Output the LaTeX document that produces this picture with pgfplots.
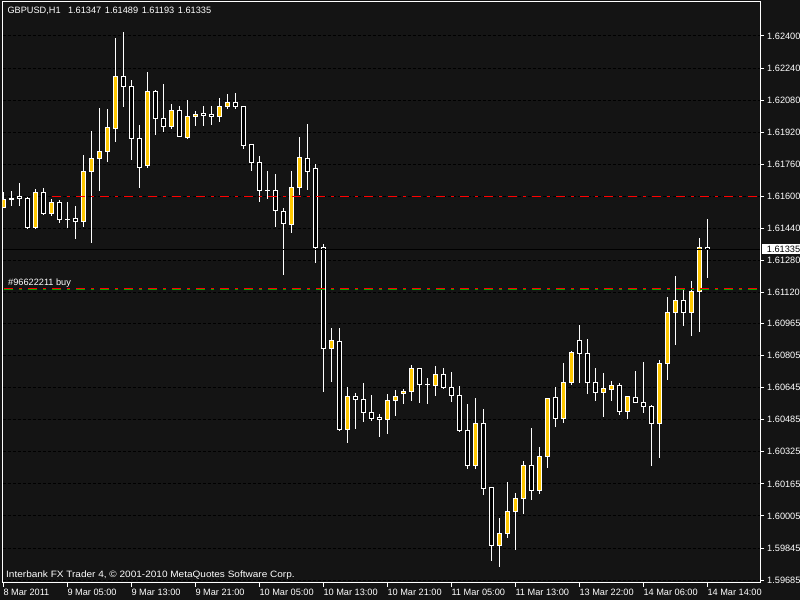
\documentclass[border=0pt]{standalone}
\usepackage{pgfplots}
\pgfplotsset{compat=1.18}
\usepackage{pgfplotstable}
\usepackage{fontspec}
\setmainfont{Liberation Sans}
\newfontfamily\mtwide{Liberation Sans}[FakeStretch=1.09]

\definecolor{mtbg}{RGB}{20,20,20}
\definecolor{mtbull}{RGB}{255,200,0}
\definecolor{mtgreen}{RGB}{0,170,0}
\newcommand\mtfont{\fontsize{9.2pt}{11pt}\selectfont}

% GBPUSD H1 candles: k = bar index, O H L C
\pgfplotstableread{
k O H L C
0 1.61545 1.61623 1.61540 1.61585
1 1.61587 1.61627 1.61553 1.61582
2 1.61600 1.61666 1.61553 1.61588
3 1.61590 1.61597 1.61438 1.61443
4 1.61443 1.61635 1.61438 1.61620
5 1.61620 1.61642 1.61508 1.61515
6 1.61515 1.61587 1.61503 1.61570
7 1.61570 1.61580 1.61468 1.61483
8 1.61485 1.61572 1.61443 1.61484
9 1.61490 1.61552 1.61389 1.61475
10 1.61473 1.61806 1.61448 1.61725
11 1.61723 1.61926 1.61369 1.61790
12 1.61788 1.62041 1.61628 1.61825
13 1.61823 1.62036 1.61773 1.61944
14 1.61937 1.62390 1.61873 1.62199
15 1.62199 1.62420 1.62047 1.62147
16 1.62149 1.62180 1.61781 1.61890
17 1.61890 1.61956 1.61643 1.61743
18 1.61753 1.62220 1.61743 1.62124
19 1.62124 1.62131 1.61906 1.61987
20 1.61989 1.62160 1.61921 1.61947
21 1.61947 1.62061 1.61937 1.62029
22 1.62029 1.62049 1.61898 1.61900
23 1.61892 1.62081 1.61888 1.61999
24 1.61997 1.62026 1.61951 1.62009
25 1.62011 1.62051 1.61951 1.62002
26 1.62006 1.62051 1.61957 1.61997
27 1.61997 1.62091 1.61971 1.62049
28 1.62047 1.62111 1.62037 1.62069
29 1.62069 1.62116 1.62037 1.62047
30 1.62049 1.62050 1.61838 1.61853
31 1.61860 1.61862 1.61728 1.61770
32 1.61770 1.61801 1.61573 1.61628
33 1.61630 1.61726 1.61588 1.61629
34 1.61630 1.61710 1.61448 1.61530
35 1.61525 1.61540 1.61209 1.61463
36 1.61458 1.61726 1.61418 1.61645
37 1.61643 1.61896 1.61607 1.61796
38 1.61790 1.61961 1.61632 1.61723
39 1.61740 1.61761 1.61269 1.61344
40 1.61346 1.61362 1.60625 1.60840
41 1.60840 1.60941 1.60675 1.60882
42 1.60877 1.60941 1.60430 1.60435
43 1.60435 1.60649 1.60371 1.60602
44 1.60599 1.60619 1.60440 1.60587
45 1.60587 1.60668 1.60475 1.60520
46 1.60522 1.60609 1.60480 1.60492
47 1.60497 1.60512 1.60400 1.60487
48 1.60485 1.60614 1.60415 1.60582
49 1.60582 1.60634 1.60502 1.60602
50 1.60617 1.60638 1.60562 1.60627
51 1.60625 1.60758 1.60580 1.60742
52 1.60742 1.60744 1.60570 1.60662
53 1.60661 1.60693 1.60565 1.60660
54 1.60655 1.60752 1.60604 1.60712
55 1.60712 1.60742 1.60640 1.60645
56 1.60647 1.60722 1.60572 1.60607
57 1.60607 1.60652 1.60425 1.60430
58 1.60432 1.60562 1.60241 1.60258
59 1.60258 1.60594 1.60241 1.60467
60 1.60467 1.60539 1.60111 1.60143
61 1.60148 1.60150 1.59782 1.59857
62 1.59857 1.59993 1.59752 1.59918
63 1.59918 1.60173 1.59896 1.60028
64 1.60028 1.60118 1.59837 1.60093
65 1.60093 1.60278 1.60016 1.60258
66 1.60258 1.60442 1.60086 1.60131
67 1.60131 1.60349 1.60116 1.60303
68 1.60303 1.60594 1.60246 1.60592
69 1.60597 1.60647 1.60450 1.60490
70 1.60490 1.60767 1.60470 1.60672
71 1.60670 1.60828 1.60660 1.60820
72 1.60882 1.60956 1.60670 1.60815
73 1.60817 1.60887 1.60615 1.60670
74 1.60670 1.60742 1.60580 1.60620
75 1.60620 1.60718 1.60500 1.60640
76 1.60635 1.60677 1.60580 1.60657
77 1.60657 1.60668 1.60510 1.60525
78 1.60525 1.60604 1.60490 1.60602
79 1.60597 1.60727 1.60570 1.60572
80 1.60572 1.60773 1.60520 1.60550
81 1.60552 1.60557 1.60256 1.60467
82 1.60467 1.60782 1.60296 1.60767
83 1.60765 1.61098 1.60685 1.61021
84 1.61019 1.61201 1.60860 1.61081
85 1.61081 1.61136 1.60954 1.61019
86 1.61019 1.61177 1.60904 1.61126
87 1.61124 1.61392 1.60924 1.61346
88 1.61347 1.61489 1.61193 1.61335
}\candles

\pgfplotsset{
  mtaxis/.style={
    scale only axis, width=757.5pt, height=580.5pt,
    xmin=-0.1, xmax=94.5875, ymin=1.596729, ymax=1.625696,
  },
  mtdash/.style={line width=1pt, dash pattern=on 9pt off 6pt on 3pt off 6pt},
}

\begin{document}
\begin{tikzpicture}[font=\mtfont]
\path[use as bounding box, fill=mtbg] (-2.5pt,-17.5pt) rectangle (797.5pt,582.5pt);

\begin{axis}[mtaxis,
  ybar stacked, bar width=4pt, reverse stacked plots=false,
  axis line style={white, line width=1pt},
  tick align=outside, major tick length=4pt,
  tick style={white, line width=1pt},
  xtick pos=bottom, ytick pos=right, yticklabel pos=right,
  xtick={0,8,...,88},
  xticklabels={8 Mar 2011, 9 Mar 05:00, 9 Mar 13:00, 9 Mar 21:00, 10 Mar 05:00,
    10 Mar 13:00, 10 Mar 21:00, 11 Mar 05:00, 11 Mar 13:00, 13 Mar 22:00,
    14 Mar 06:00, 14 Mar 14:00},
  ytick={1.59685,1.59845,1.60005,1.60165,1.60325,1.60485,1.60645,1.60805,1.60965,
    1.61120,1.61280,1.61440,1.61600,1.61760,1.61920,1.62080,1.62240,1.62400},
  yticklabels={1.59685,1.59845,1.60005,1.60165,1.60325,1.60485,1.60645,1.60805,1.60965,
    1.61120,1.61280,1.61440,1.61600,1.61760,1.61920,1.62080,1.62240,1.62400},
  ymajorgrids,
  major grid style={black, line width=1pt, dash pattern=on 3pt off 2pt},
  ticklabel style={font=\mtfont, text=white},
  xticklabel style={anchor=north west, inner sep=0pt, yshift=-2pt},
  yticklabel style={anchor=west, inner sep=0pt, xshift=3pt},
]
% wicks, hung on the invisible base bar
\addplot[draw=none, fill=none,
  error bars/.cd, y dir=both, y explicit, error mark=none,
  error bar style={draw=white, line width=1pt, solid}]
  table[x=k, y expr={min(\thisrow{O},\thisrow{C})},
    y error plus expr={\thisrow{H}-min(\thisrow{O},\thisrow{C})},
    y error minus expr={min(\thisrow{O},\thisrow{C})-\thisrow{L}}] {\candles};
% bull bodies
\addplot[draw=white, fill=mtbull, line width=1pt]
  table[x=k, y expr={max(\thisrow{C}-\thisrow{O},0)}] {\candles};
% bear bodies
\addplot[draw=white, fill=black, line width=1pt]
  table[x=k, y expr={max(\thisrow{O}-\thisrow{C},0)}] {\candles};
\end{axis}

\begin{axis}[mtaxis, hide axis, clip=false]
\addplot[mtgreen, mtdash] coordinates {(0.0875,1.61135) (94.5875,1.61135)};
\addplot[red, mtdash] coordinates {(0.0875,1.61140) (94.5875,1.61140)};
\addplot[red, mtdash] coordinates {(6.0875,1.61600) (94.5875,1.61600)};
\addplot[black, line width=1pt] coordinates {(-0.1,1.61335) (94.5875,1.61335)};

\node[anchor=base west, inner sep=0pt, text=white]
  at ([shift={(4.8pt,-12pt)}]rel axis cs:0,1)
  {GBPUSD,H1\hspace{7.4pt}1.61347\hspace{3.6pt}1.61489\hspace{3.6pt}1.61193\hspace{3.6pt}1.61335};
\node[anchor=base west, inner sep=0pt, text=white, font=\mtfont\mtwide]
  at ([shift={(3.5pt,4.8pt)}]rel axis cs:0,0)
  {Interbank FX Trader 4, © 2001-2010 MetaQuotes Software Corp.};
\node[anchor=base west, inner sep=0pt, text=white]
  at ([yshift=3pt]axis cs:0.5875,1.6114) {\#96622211 buy};
\fill[white] ([shift={(1.7pt,-5pt)}]axis cs:94.5875,1.61335)
  rectangle ([shift={(42pt,5pt)}]axis cs:94.5875,1.61335);
\node[anchor=west, inner sep=0pt, text=black]
  at ([xshift=6.7pt]axis cs:94.5875,1.61335) {1.61335};
\end{axis}
\end{tikzpicture}
\end{document}
